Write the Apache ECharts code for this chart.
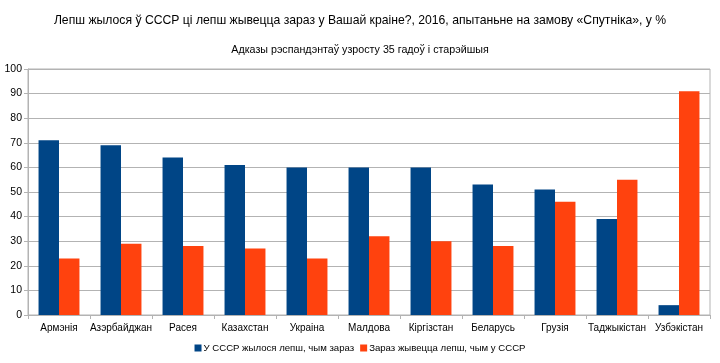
<!DOCTYPE html>
<html><head><meta charset="utf-8">
<script src="https://cdn.jsdelivr.net/npm/echarts@6/dist/echarts.min.js"></script>
<style>html,body{margin:0;padding:0;background:#fff}#c{width:720px;height:363px}</style>
</head><body><div id="c"></div>
<script>
var categories = ['Армэнія','Азэрбайджан','Расея','Казахстан','Украіна','Малдова','Кіргізстан','Беларусь','Грузія','Таджыкістан','Узбэкістан'];
var betterUSSR = [71,69,64,61,60,60,60,53,51,39,4];
var betterNow = [23,29,28,27,23,32,30,28,46,55,91];
var seriesNames = ['У СССР жылося лепш, чым зараз','Зараз жывецца лепш, чым у СССР'];
var yTicks = [0,10,20,30,40,50,60,70,80,90,100];

var chart = echarts.init(document.getElementById('c'), null, {renderer:'canvas'});
var font = 'Liberation Sans, Arial, sans-serif';
chart.setOption({
  animation:false,
  textStyle:{fontFamily:font},
  title:[{text:'Лепш жылося ў СССР ці лепш жывецца зараз у Вашай краіне?, 2016, апытаньне на замову «Спутніка», у %',
    left:'center', top:10, textStyle:{fontSize:12.2, fontWeight:'normal', color:'#000', fontFamily:font}},
    {text:'Адказы рэспандэнтаў узросту 35 гадоў і старэйшыя', left:'center', top:40,
    textStyle:{fontSize:10.7, fontWeight:'normal', color:'#000', fontFamily:font}}],
  legend:{bottom:5, left:'center', itemWidth:7, itemHeight:7, itemGap:6, icon:'rect',
    textStyle:{fontSize:9.6, color:'#000', fontFamily:font, padding:[0,0,0,-3]}},
  grid:{left:28, right:10, top:69, bottom:48, show:true, borderColor:'#b3b3b3', borderWidth:1},
  xAxis:{type:'category', data:categories,
    axisLine:{lineStyle:{color:'#b3b3b3'}},
    axisTick:{show:true, length:4, lineStyle:{color:'#b3b3b3'}},
    axisLabel:{fontSize:10, color:'#000', margin:8, interval:0}},
  yAxis:{type:'value', min:0, max:100, interval:10,
    axisLine:{show:true, lineStyle:{color:'#b3b3b3'}},
    axisTick:{show:true, length:4, lineStyle:{color:'#b3b3b3'}},
    axisLabel:{fontSize:10.5, color:'#000', margin:6, formatter:function(v){return yTicks.indexOf(v)>=0?String(v):'';}},
    splitLine:{lineStyle:{color:'#b3b3b3'}}},
  series:[
    {name:seriesNames[0], type:'bar', data:betterUSSR, itemStyle:{color:'#004586'}, barGap:'0%', barCategoryGap:'34%'},
    {name:seriesNames[1], type:'bar', data:betterNow, itemStyle:{color:'#ff420e'}}
  ]
});
</script></body></html>
